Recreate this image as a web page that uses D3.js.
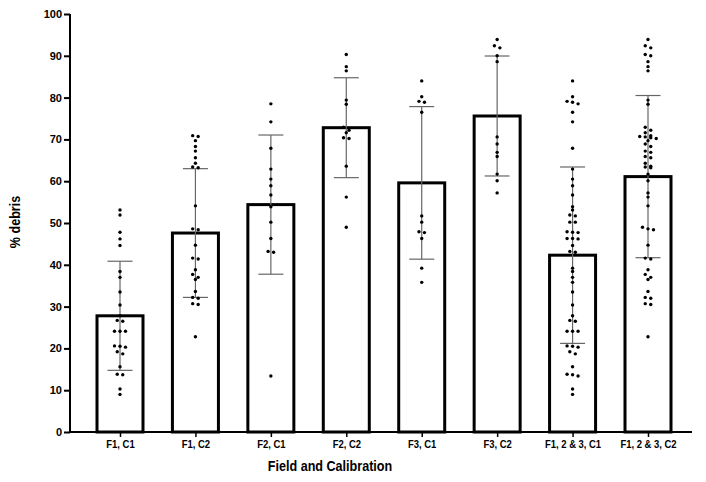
<!DOCTYPE html>
<html>
<head>
<meta charset="utf-8">
<script src="https://cdn.jsdelivr.net/npm/d3@7"></script>
<style>
  body { margin: 0; background: #fff; }
  svg { display: block; }
  text { font-family: "Liberation Sans", Arial, sans-serif; font-weight: bold; fill: #000; }
</style>
</head>
<body>
<svg id="chart" width="706" height="482"></svg>
<script>
// ---- data ----
const categories = ["F1, C1", "F1, C2", "F2, C1", "F2, C2", "F3, C1", "F3, C2", "F1, 2 & 3, C1", "F1, 2 & 3, C2"];
const means = [27.8, 47.6, 54.4, 72.8, 59.6, 75.6, 42.3, 61.1];
const sds   = [13.05, 15.4, 16.65, 11.95, 18.25, 14.35, 21.1, 19.4];

const f1c1 = [53.1, 51.9, 47.8, 46.2, 44.6, 38.4, 37.0, 33.5, 30.4, 27.8, 26.7, 26.5, 24.1, 24.1, 24.1, 20.6, 20.5, 20.3, 19.2, 18.7, 15.6, 13.8, 13.7, 10.3, 9.0];
const f1c2 = [70.9, 70.7, 69.7, 68.3, 67.2, 65.6, 64.3, 63.4, 63.2, 54.1, 48.6, 48.4, 44.7, 41.6, 41.4, 38.8, 37.7, 37.0, 36.5, 33.6, 32.2, 32.0, 30.7, 30.5, 22.8];
const f2c1 = [78.5, 74.2, 67.9, 62.9, 60.5, 58.9, 56.7, 53.9, 50.2, 46.3, 43.2, 43.0, 13.4];
const f2c2 = [90.3, 87.4, 86.4, 79.4, 78.4, 72.9, 72.2, 71.6, 70.4, 70.2, 63.6, 56.2, 49.0];
const f3c1 = [84.0, 80.2, 79.1, 78.9, 76.5, 51.7, 50.2, 47.9, 47.7, 46.3, 39.2, 35.8];
const f3c2 = [93.9, 92.4, 91.9, 90.0, 88.6, 70.6, 68.9, 66.9, 65.9, 61.7, 60.1, 57.2];
const allC1 = [84.0, 80.2, 79.1, 78.9, 78.5, 76.5, 74.2, 67.9, 62.9, 60.5, 58.9, 56.7, 53.9, 53.1, 51.9, 51.7, 50.2, 50.2, 47.9, 47.8, 47.7, 46.3, 46.3, 46.2, 44.6, 43.2, 43.0, 39.2, 38.4, 37.0, 35.8, 33.5, 30.4, 27.8, 26.7, 26.5, 24.1, 24.1, 24.1, 20.6, 20.5, 20.3, 19.2, 18.7, 15.6, 13.8, 13.7, 13.4, 10.3, 9.0];
const allC2 = [93.9, 92.4, 91.9, 90.3, 90.0, 88.6, 87.4, 86.4, 79.4, 78.4, 72.9, 72.2, 71.6, 70.9, 70.7, 70.6, 70.4, 70.2, 69.7, 68.9, 68.3, 67.2, 66.9, 65.9, 65.6, 64.3, 63.6, 63.4, 63.2, 61.7, 60.1, 57.2, 56.2, 54.1, 49.0, 48.6, 48.4, 44.7, 41.6, 41.4, 38.8, 37.7, 37.0, 36.5, 33.6, 32.2, 32.0, 30.7, 30.5, 22.8];
const points = [f1c1, f1c2, f2c1, f2c2, f3c1, f3c2, allC1, allC2];
const yTicks = [0, 10, 20, 30, 40, 50, 60, 70, 80, 90, 100];

// ---- layout ----
const svg = d3.select("#chart");
const axisX0 = 70, axisX1 = 692, yTop = 14, yBottom = 432;
const x = d3.scalePoint().domain(categories).range([120, 648]);
const y = d3.scaleLinear().domain([0, 100]).range([yBottom, yTop]);
const barW = 46, capW = 25, dotSpacing = 5.5;

// bars
svg.append("g").selectAll("rect").data(categories).join("rect")
  .attr("x", d => x(d) - barW / 2)
  .attr("width", barW)
  .attr("y", (d, i) => y(means[i]))
  .attr("height", (d, i) => y(0) - y(means[i]))
  .attr("fill", "#fff")
  .attr("stroke", "#000")
  .attr("stroke-width", 3);

// error bars
const eb = svg.append("g").attr("stroke", "#666").attr("stroke-width", 1.2).attr("fill", "none");
categories.forEach((c, i) => {
  const cx = x(c);
  const hi = y(means[i] + sds[i]), lo = y(means[i] - sds[i]);
  eb.append("line").attr("x1", cx).attr("x2", cx).attr("y1", hi).attr("y2", lo);
  eb.append("line").attr("x1", cx - capW / 2).attr("x2", cx + capW / 2).attr("y1", hi).attr("y2", hi);
  eb.append("line").attr("x1", cx - capW / 2).attr("x2", cx + capW / 2).attr("y1", lo).attr("y2", lo);
});

// dots (row-based swarm)
const dotG = svg.append("g").attr("fill", "#000");
categories.forEach((c, i) => {
  const vals = points[i].slice().sort((a, b) => b - a);
  const rows = [];
  vals.forEach(v => {
    const py = y(v);
    const last = rows[rows.length - 1];
    if (last && Math.abs(py - last.y0) < 3) last.items.push(py);
    else rows.push({ y0: py, items: [py] });
  });
  rows.forEach(r => {
    const n = r.items.length;
    r.items.forEach((py, k) => {
      dotG.append("circle")
        .attr("cx", x(c) + (k - (n - 1) / 2) * dotSpacing)
        .attr("cy", py)
        .attr("r", 1.7);
    });
  });
});

// y axis
const yAxis = d3.axisLeft(y).tickValues(yTicks).tickSize(6).tickPadding(2).tickFormat(d3.format("d"));
const gy = svg.append("g").attr("transform", `translate(${axisX0},0)`).call(yAxis);
gy.select(".domain").attr("stroke", "#000").attr("stroke-width", 2).attr("d", `M0,${yTop}V${yBottom}`);
gy.selectAll(".tick line").attr("stroke", "#000").attr("stroke-width", 2);
gy.selectAll(".tick text").style("font-size", "11px").style("font-family", "'Liberation Sans', Arial, sans-serif").style("font-weight", "bold");

// x axis
const xAxis = d3.axisBottom(x).tickSize(5).tickPadding(4);
const gx = svg.append("g").attr("transform", `translate(0,${yBottom})`).call(xAxis);
gx.select(".domain").attr("stroke", "#000").attr("stroke-width", 2).attr("d", `M${axisX0 - 1},0H${axisX1}`);
gx.selectAll(".tick line").attr("stroke", "#000").attr("stroke-width", 1.5);
gx.selectAll(".tick text").style("font-size", "10.5px").style("font-family", "'Liberation Sans', Arial, sans-serif").style("font-weight", "bold")
  .attr("transform", "scale(0.9,1)");

// axis titles
svg.append("text")
  .attr("transform", "translate(330,471) scale(0.9,1)")
  .attr("text-anchor", "middle")
  .style("font-size", "14px")
  .text("Field and Calibration");

svg.append("text")
  .attr("transform", "translate(20,222) rotate(-90) scale(0.9,1)")
  .attr("text-anchor", "middle")
  .style("font-size", "14px")
  .text("% debris");
</script>
</body>
</html>
